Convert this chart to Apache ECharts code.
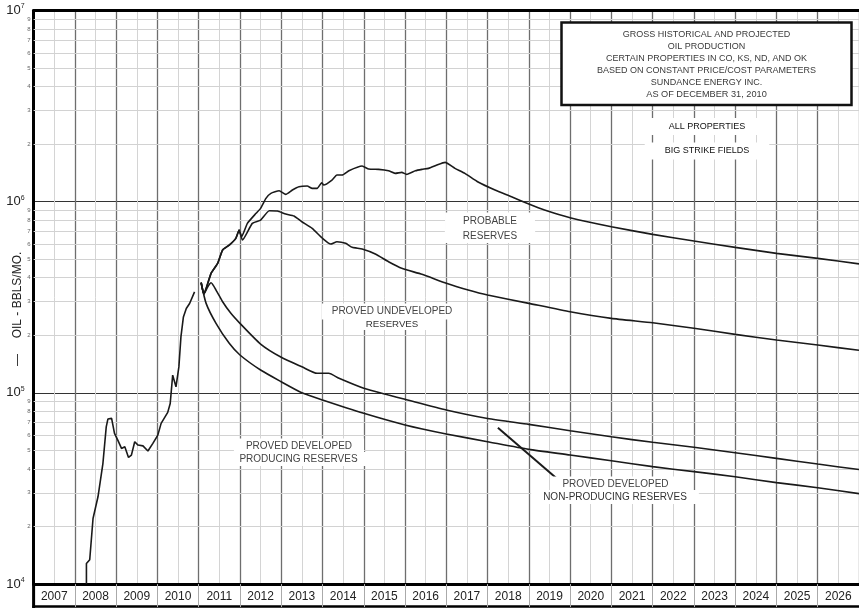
<!DOCTYPE html>
<html>
<head>
<meta charset="utf-8">
<script src="https://cdn.jsdelivr.net/npm/echarts@6/dist/echarts.min.js"></script>
<style>
  html, body { margin: 0; padding: 0; background: #fff; }
  #chart { width: 859px; height: 608px; }
</style>
</head>
<body>
<div id="chart"></div>
<script>
// Year cells along the bottom strip
const yearLabels = ['2007','2008','2009','2010','2011','2012','2013','2014','2015','2016',
                    '2017','2018','2019','2020','2021','2022','2023','2024','2025','2026'];

// Log-cycle subdivisions (2..9 within each decade)
const minorDigits = [2, 3, 4, 5, 6, 7, 8, 9];
const decadeBases = [1e4, 1e5, 1e6];

// Historical gross oil production, BBLS/MO  [year, rate]
const historical = [
  [2008.28, 10000], [2008.28, 12800], [2008.36, 13400], [2008.44, 22000], [2008.56, 28600],
  [2008.68, 42800], [2008.76, 66400], [2008.80, 72900], [2008.89, 73500], [2008.96, 61400],
  [2009.04, 56600], [2009.13, 51200], [2009.21, 52200], [2009.30, 45900], [2009.37, 47200],
  [2009.45, 55500], [2009.53, 53300], [2009.65, 52800], [2009.77, 49600], [2009.89, 54400],
  [2010.01, 60100], [2010.09, 69200], [2010.25, 79000], [2010.31, 88000], [2010.37, 123700],
  [2010.45, 107500], [2010.52, 136700], [2010.57, 196200], [2010.63, 249600], [2010.70, 276300],
  [2010.78, 293300], [2010.90, 337400]
];

// Proved + probable projection
const probable = [
  [2011.06, 376700], [2011.125, 328600], [2011.30, 421700], [2011.46, 475700], [2011.58, 558400],
  [2011.74, 592900], [2011.90, 642700], [2011.98, 710200], [2012.04, 655300], [2012.18, 769900],
  [2012.39, 868800], [2012.50, 922500], [2012.63, 1040400], [2012.75, 1105000], [2012.95, 1140200],
  [2013.11, 1092000], [2013.27, 1150000], [2013.43, 1196500], [2013.63, 1206700], [2013.75, 1173800],
  [2013.87, 1173800], [2013.98, 1255800], [2014.03, 1221400], [2014.23, 1297300], [2014.35, 1377700],
  [2014.48, 1377700], [2014.64, 1450900], [2014.96, 1535400], [2015.12, 1480900], [2015.36, 1475400],
  [2015.60, 1450900], [2015.76, 1406000], [2015.92, 1423000], [2016.04, 1389300], [2016.25, 1450900],
  [2016.41, 1475400], [2016.57, 1493500], [2016.77, 1553900], [2016.97, 1605200], [2017.21, 1493500],
  [2017.45, 1406000], [2017.77, 1266300], [2018.18, 1150000], [2018.58, 1061000], [2019.00, 971400],
  [2019.38, 903900], [2020, 823700], [2021, 739100], [2022, 674500], [2023, 622300],
  [2024, 576800], [2025, 536500], [2026, 505100], [2027, 472800]
];

// Total proved (developed + undeveloped) projection
const provedTotal = [
  [2011.06, 376700], [2011.125, 328600], [2011.30, 421700], [2011.46, 475700], [2011.58, 558400],
  [2011.74, 592900], [2011.90, 642700], [2011.98, 710200], [2012.06, 629800], [2012.30, 769900],
  [2012.50, 801200], [2012.71, 896500], [2012.91, 893200], [2013.11, 861500], [2013.31, 841000],
  [2013.50, 785200], [2013.75, 725000], [2014.00, 642700], [2014.20, 600100], [2014.35, 617000],
  [2014.56, 605200], [2014.72, 576800], [2014.96, 565100], [2015.28, 532000], [2015.60, 485000],
  [2015.92, 447900], [2016.41, 416800], [2017.00, 373900], [2017.53, 344900], [2018, 324700],
  [2019, 293800], [2020, 265600], [2021, 245300], [2022, 232600], [2023, 217500],
  [2024, 202300], [2025, 188900], [2026, 177800], [2027, 166900]
];

// Proved developed (producing + non-producing) projection
const provedDeveloped = [
  [2011.06, 376700], [2011.125, 328600], [2011.22, 358900], [2011.30, 376700], [2011.42, 344900],
  [2011.58, 299600], [2011.78, 260500], [2012.00, 230900], [2012.50, 179900], [2013.00, 153400],
  [2013.50, 136900], [2013.87, 126500], [2014.15, 126500], [2014.40, 119100], [2015.00, 105600],
  [2015.60, 97400], [2016, 92500], [2017, 81300], [2018, 73400], [2019, 68400],
  [2020, 63400], [2021, 58900], [2022, 55100], [2023, 51900], [2024, 48600],
  [2025, 45400], [2026, 42400], [2027, 39700]
];

// Proved developed producing projection
const provedDevProducing = [
  [2011.06, 376700], [2011.18, 293800], [2011.42, 230900], [2011.74, 181500], [2012.00, 157700],
  [2012.50, 131600], [2013.00, 114300], [2013.50, 100100], [2014.00, 91700], [2015, 78100],
  [2016, 67900], [2017, 60900], [2018, 55500], [2019, 50600], [2020, 47300],
  [2021, 44100], [2022, 41100], [2023, 38700], [2024, 36400], [2025, 33900],
  [2026, 31900], [2027, 29700]
];

// Pointer from the non-producing label toward the gap between the lower curves
const npdPointer = [[2018.25, 65600], [2019.67, 35700]];

const FONT = '"Liberation Sans", Arial, sans-serif';
const LINE = '#1a1a1a';

const minorLines = [];
decadeBases.forEach(b => minorDigits.forEach(d => minorLines.push({ yAxis: d * b })));

function curve(name, data, extra) {
  return Object.assign({
    name, type: 'line', data, xAxisIndex: 0, yAxisIndex: 0,
    symbol: 'none', smooth: 0.2, z: 5,
    lineStyle: { color: LINE, width: 1.6 }
  }, extra || {});
}

function label(cx, cy, text, size, color, pad) {
  return {
    type: 'text', x: cx, y: cy, z: 30,
    style: {
      text, font: size + 'px ' + FONT, fill: color || '#333',
      align: 'center', verticalAlign: 'middle',
      textAlign: 'center', textVerticalAlign: 'middle',
      backgroundColor: '#fff', padding: pad || [2, 10]
    }
  };
}

const titleLines = [
  ['GROSS HISTORICAL AND PROJECTED', 35, 9],
  ['OIL PRODUCTION', 46.5, 9],
  ['CERTAIN PROPERTIES IN CO, KS, ND, AND OK', 58.5, 9],
  ['BASED ON CONSTANT PRICE/COST PARAMETERS', 70.5, 9],
  ['SUNDANCE ENERGY INC.', 82.5, 9],
  ['AS OF DECEMBER 31, 2010', 94.5, 9.2]
];

const chart = echarts.init(document.getElementById('chart'), null, { renderer: 'canvas' });

chart.setOption({
  animation: false,
  backgroundColor: '#fff',
  grid: { left: 33.6, top: 10.5, right: -3, bottom: 24, containLabel: false },
  xAxis: [
    { // half-year grid
      type: 'value', min: 2007, max: 2027, interval: 0.5,
      axisLine: { show: false }, axisTick: { show: false }, axisLabel: { show: false },
      splitLine: { show: true, lineStyle: { color: '#d4d4d4', width: 1 } }
    },
    { // year grid
      type: 'value', min: 2007, max: 2027, interval: 1,
      axisLine: { show: false }, axisTick: { show: false }, axisLabel: { show: false },
      splitLine: { show: true, lineStyle: { color: '#6e6e6e', width: 1.3 } }
    },
    { // year cells
      type: 'category', data: yearLabels, position: 'bottom', boundaryGap: true,
      axisLine: { show: true, lineStyle: { color: '#000', width: 3 } },
      axisTick: { show: true, length: 23, interval: 0, lineStyle: { color: '#aaa', width: 1 } },
      axisLabel: { show: true, interval: 0, margin: 7, fontSize: 12, color: '#222', fontFamily: FONT },
      splitLine: { show: false }
    },
    { // bottom edge of the year strip
      type: 'value', min: 2007, max: 2027, position: 'bottom', offset: 22.5,
      axisLine: { show: true, lineStyle: { color: '#000', width: 2.5 } },
      axisTick: { show: false }, axisLabel: { show: false }, splitLine: { show: false }
    },
    { // top frame
      type: 'value', min: 2007, max: 2027, position: 'top',
      axisLine: { show: true, lineStyle: { color: '#000', width: 3 } },
      axisTick: { show: false }, axisLabel: { show: false }, splitLine: { show: false }
    }
  ],
  yAxis: [{
    type: 'log', logBase: 10, min: 1e4, max: 1e7,
    axisLine: { show: true, onZero: false, lineStyle: { color: '#000', width: 3 } },
    axisTick: { show: false },
    splitLine: { show: true, lineStyle: { color: '#333', width: 1.2 } },
    axisLabel: {
      show: true, margin: 9,
      formatter: v => '{b|10}{s|' + Math.round(Math.log10(v)) + '}',
      rich: {
        b: { fontSize: 13, fontFamily: FONT, color: '#222', lineHeight: 15 },
        s: { fontSize: 7, fontFamily: FONT, color: '#222', lineHeight: 8, verticalAlign: 'top' }
      }
    }
  }],
  series: [
    { // log-cycle subdivision lines
      name: 'cycles', type: 'line', data: [], xAxisIndex: 0, yAxisIndex: 0, z: 1, silent: true,
      markLine: {
        silent: true, symbol: ['none', 'none'], animation: false,
        lineStyle: { color: '#d2d2d2', width: 1, type: 'solid' },
        label: {
          show: true, position: 'start', distance: 3, fontSize: 6, color: '#666', fontFamily: FONT,
          formatter: p => String(Math.round(p.value / Math.pow(10, Math.floor(Math.log10(p.value) + 1e-9))))
        },
        emphasis: { disabled: true },
        data: minorLines
      }
    },
    curve('Historical', historical, { smooth: false }),
    curve('Probable', probable, { smooth: 0.15 }),
    curve('Proved', provedTotal, { smooth: 0.15 }),
    curve('Proved Developed', provedDeveloped, {
      markLine: {
        silent: true, symbol: ['none', 'none'], animation: false,
        lineStyle: { color: LINE, width: 2, type: 'solid' },
        label: { show: false },
        data: [[{ coord: npdPointer[0] }, { coord: npdPointer[1] }]]
      }
    }),
    curve('Proved Developed Producing', provedDevProducing)
  ],
  graphic: [
    { type: 'line', z: 20, shape: { x1: 33.6, y1: 583, x2: 33.6, y2: 608 },
      style: { stroke: '#000', lineWidth: 3 } },
    { type: 'rect', z: 20, shape: { x: 561.5, y: 22.5, width: 290, height: 82.5 },
      style: { fill: '#fff', stroke: '#111', lineWidth: 2.5 } },
    ...titleLines.map(([t, y, s]) => ({
      type: 'text', x: 706.5, y, z: 21,
      style: { text: t, font: s + 'px ' + FONT, fill: '#3a3a3a',
               align: 'center', verticalAlign: 'middle', textAlign: 'center', textVerticalAlign: 'middle' }
    })),
    label(707, 126.5, 'ALL PROPERTIES', 9, '#111', [4, 20]),
    label(707, 151, 'BIG STRIKE FIELDS', 9, '#111', [4, 20]),
    label(490, 221.5, 'PROBABLE', 10, '#444', [4, 18]),
    label(490, 236, 'RESERVES', 10, '#444', [2, 18]),
    label(392, 311.5, 'PROVED UNDEVELOPED', 10, '#444', [3, 10]),
    label(392, 324, 'RESERVES', 9.7, '#333', [1, 10]),
    label(299, 446.5, 'PROVED DEVELOPED', 10, '#444', [3, 12]),
    label(298.5, 459, 'PRODUCING RESERVES', 10, '#444', [2, 12]),
    label(615.5, 484.5, 'PROVED DEVELOPED', 10, '#444', [3, 12]),
    label(615, 497, 'NON-PRODUCING RESERVES', 10, '#333', [2, 12]),
    { type: 'text', x: 18, y: 295, rotation: Math.PI / 2, z: 20,
      style: { text: 'OIL - BBLS/MO.', font: '12px ' + FONT, fill: '#222',
               align: 'center', verticalAlign: 'middle', textAlign: 'center', textVerticalAlign: 'middle' } },
    { type: 'text', x: 18, y: 360, rotation: Math.PI / 2, z: 20,
      style: { text: '—', font: '12px ' + FONT, fill: '#222',
               align: 'center', verticalAlign: 'middle', textAlign: 'center', textVerticalAlign: 'middle' } }
  ]
});
</script>
</body>
</html>
